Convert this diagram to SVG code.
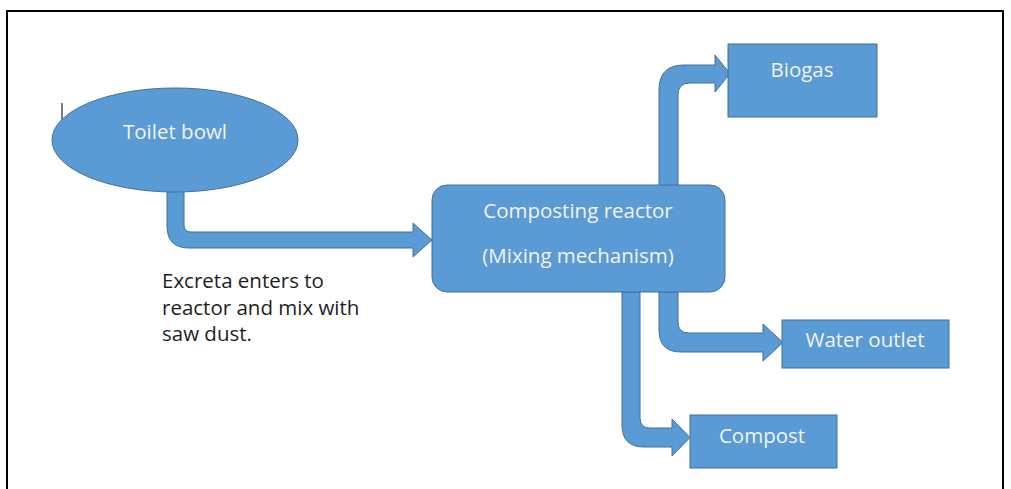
<svg xmlns="http://www.w3.org/2000/svg" width="1011" height="489" viewBox="0 0 1011 489">
<style>
.shape{fill:#5b9bd5;stroke:#41719c;stroke-width:1}
.arrow{fill:#5b9bd5;stroke:#41719c;stroke-width:1;stroke-linejoin:miter}
.lbl{font-family:"Open Sans","Liberation Sans",sans-serif;font-size:20.5px;fill:#f2f2f2;text-anchor:middle}
.note{font-family:"Open Sans","Liberation Sans",sans-serif;font-size:20.5px;fill:#1e1e1e}
</style>
<rect width="1011" height="489" fill="#ffffff"/>
<g id="frame">
<path d="M7,489 L7,11 L1003,11 L1003,489" fill="none" stroke="#000" stroke-width="2"/>
<line x1="62" y1="103" x2="62" y2="120" stroke="#222" stroke-width="1.2"/>
</g>
<g id="connectors">
<path class="arrow" d="M167,188 L167,226 Q167,248 189,248 L413,248 L413,257 L432,240 L413,223 L413,232 L191,232 Q184,232 184,225 L184,188 Z"/>
<path class="arrow" d="M659,186 L659,90 Q659,65 684,65 L715,65 L715,55 L730,73.5 L715,92 L715,83 L690,83 Q678,83 678,95 L678,186 Z"/>
<path class="arrow" d="M659,292 L659,330 Q659,352 681,352 L763,352 L763,361 L783,342.5 L763,324 L763,333 L689,333 Q678,333 678,322 L678,292 Z"/>
<path class="arrow" d="M622,292 L622,425 Q622,447 644,447 L672,447 L672,456 L690,437.5 L672,419 L672,428 L650,428 Q640,428 640,418 L640,292 Z"/>
</g>
<g id="toilet-bowl">
<ellipse class="shape" cx="175" cy="140" rx="123" ry="52"/>
<text class="lbl" x="175" y="139">Toilet bowl</text>
</g>
<g id="reactor">
<rect class="shape" x="432" y="185" width="293" height="107" rx="15" ry="15"/>
<text class="lbl" x="578" y="218">Composting reactor</text>
<text class="lbl" x="578" y="263">(Mixing mechanism)</text>
</g>
<g id="biogas">
<rect class="shape" x="728" y="44" width="149" height="73"/>
<text class="lbl" x="802" y="77">Biogas</text>
</g>
<g id="water-outlet">
<rect class="shape" x="782" y="320" width="167" height="48"/>
<text class="lbl" x="865" y="347">Water outlet</text>
</g>
<g id="compost">
<rect class="shape" x="690" y="415" width="147" height="53"/>
<text class="lbl" x="762" y="443">Compost</text>
</g>
<g id="note">
<text class="note" x="162" y="288">Excreta enters to</text>
<text class="note" x="162" y="315">reactor and mix with</text>
<text class="note" x="162" y="341">saw dust.</text>
</g>
</svg>
